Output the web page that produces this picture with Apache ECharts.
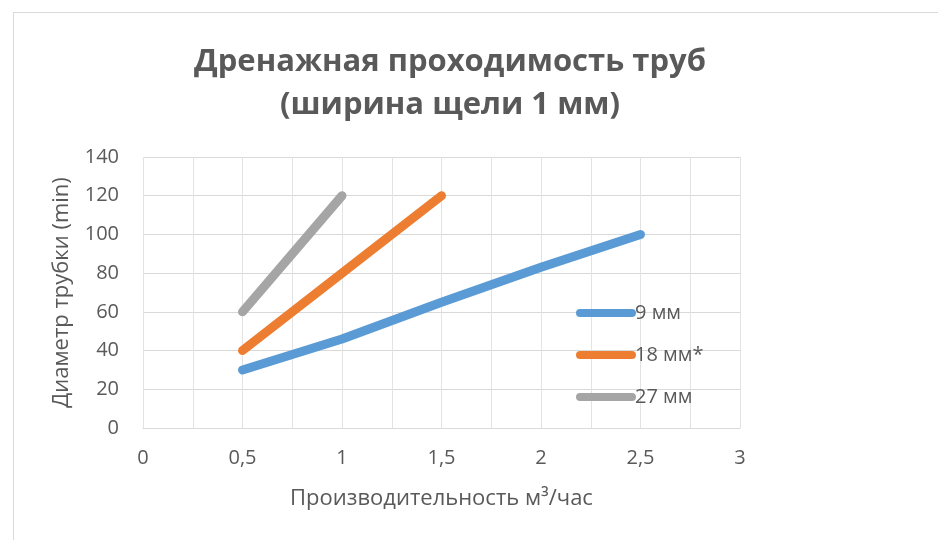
<!DOCTYPE html>
<html>
<head>
<meta charset="utf-8">
<script src="https://cdn.jsdelivr.net/npm/echarts@6/dist/echarts.min.js"></script>
<style>
  html, body { margin: 0; padding: 0; background: #fff; }
  .frame { position: absolute; left: 13px; top: 12px; width: 940px; height: 540px; border: 1px solid #d9d9d9; box-sizing: border-box; }
  #chart { position: absolute; left: 0; top: 0; width: 938px; height: 540px; }
</style>
</head>
<body>
<div class="frame"></div>
<div id="chart"></div>
<script>
  // данные
  var seriesNames = ['9 мм', '18 мм*', '27 мм'];
  var s9 = [[0.5, 30], [1, 46], [1.5, 65], [2, 83], [2.5, 100]];
  var s18 = [[0.5, 40], [1, 80], [1.5, 120]];
  var s27 = [[0.5, 60], [1, 120]];
  var colors = ['#5b9bd5', '#ed7d31', '#a5a5a5'];

  var txt = '#595959';
  var font = 'Open Sans';
  var chart = echarts.init(document.getElementById('chart'));
  var legendIcon = 'path://M4,0 H55 A4,4 0 0 1 55,8 H4 A4,4 0 0 1 4,0 Z';

  function mkLine(name, data, color) {
    return {
      name: name,
      type: 'line',
      data: data,
      symbol: 'none',
      color: color,
      lineStyle: { width: 9, color: color, cap: 'round', join: 'round' }
    };
  }

  chart.setOption({
    animation: false,
    title: {
      text: 'Дренажная проходимость труб\n(ширина щели 1 мм)',
      left: 445,
      textAlign: 'center',
      top: 36,
      textStyle: { color: txt, fontSize: 31, fontWeight: 'bold', fontFamily: font, lineHeight: 43 }
    },
    legend: {
      orient: 'vertical',
      left: 571,
      top: 298,
      itemWidth: 60,
      itemHeight: 9,
      itemGap: 22,
      icon: legendIcon,
      textStyle: { color: txt, fontSize: 20, fontFamily: font, padding: [0, 0, 0, -6] },
      data: seriesNames
    },
    grid: { left: 143, right: 198, top: 157, bottom: 112, containLabel: false },
    xAxis: {
      type: 'value',
      min: 0,
      max: 3,
      interval: 0.5,
      name: 'Производительность м³/час',
      nameLocation: 'middle',
      nameGap: 60,
      nameTextStyle: { color: txt, fontSize: 22, fontFamily: font },
      axisLine: { show: true, lineStyle: { color: '#d9d9d9', width: 1 } },
      axisTick: { show: false },
      axisLabel: {
        color: txt, fontSize: 20, fontFamily: font, margin: 20,
        formatter: function (v) { return String(v).replace('.', ','); }
      },
      splitLine: { show: true, lineStyle: { color: '#e3e3e3', width: 1 } },
      minorTick: { show: false, splitNumber: 2 },
      minorSplitLine: { show: true, lineStyle: { color: '#e3e3e3', width: 1 } }
    },
    yAxis: {
      type: 'value',
      min: 0,
      max: 140,
      interval: 20,
      name: 'Диаметр трубки (min)',
      nameLocation: 'middle',
      nameGap: 70,
      nameTextStyle: { color: txt, fontSize: 22, fontFamily: font },
      axisLine: { show: false },
      axisTick: { show: false },
      axisLabel: { color: txt, fontSize: 20, fontFamily: font, margin: 24 },
      splitLine: { show: true, lineStyle: { color: '#d9d9d9', width: 1 } }
    },
    series: [
      mkLine(seriesNames[0], s9, colors[0]),
      mkLine(seriesNames[1], s18, colors[1]),
      mkLine(seriesNames[2], s27, colors[2])
    ]
  });
</script>
</body>
</html>
